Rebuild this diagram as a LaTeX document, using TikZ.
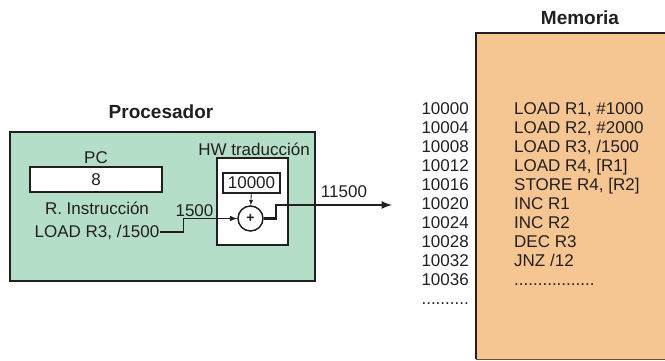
\documentclass[tikz,border=0pt]{standalone}
\usepackage{fontspec}
\setmainfont{Liberation Sans}
\definecolor{procgreen}{RGB}{180,222,199}
\definecolor{mempeach}{RGB}{245,198,146}
\definecolor{inkgray}{RGB}{35,31,32}
\tikzset{
    lbl/.style={inner sep=0pt, text=inkgray, font=\fontsize{17}{19}\selectfont},
    title/.style={inner sep=0pt, text=inkgray, font=\fontsize{19}{21}\selectfont\bfseries},
    regbox/.style={draw=inkgray, line width=2pt, fill=white, inner sep=0pt, text=inkgray, font=\fontsize{17}{19}\selectfont}
}
\begin{document}
\begin{tikzpicture}[x=1pt, y=-1pt, >=latex]
        \useasboundingbox (0,0) rectangle (665,361);

        \fill[mempeach] (476,33) rectangle (665,359);
        \draw[brown!60!black, line width=0.8pt] (476,359) -- (665,359);
        \draw[inkgray, line width=2.5pt] (476,359) -- (476,33) -- (665,33);
        \node[title] (memtitle) at (580,18) {Memoria};
        \foreach \i/\addr/\ins in {0/10000/{LOAD R1, \#1000}, 1/10004/{LOAD R2, \#2000}, 2/10008/{LOAD R3, /1500}, 3/10012/{LOAD R4, [R1]}, 4/10016/{STORE R4, [R2]}, 5/10020/{INC R1}, 6/10024/{INC R2}, 7/10028/{DEC R3}, 8/10032/{JNZ /12}, 9/10036/{.................}} {
            \node[lbl, anchor=base east] (addr\i) at (469, 115+18.9*\i) {\addr};
            \node[lbl, anchor=base west] (ins\i) at (514, 115+18.9*\i) {\ins};
        }
        \node[lbl, anchor=base east] (addrmore) at (469, 304) {..........};

        \draw[fill=procgreen, draw=inkgray, line width=2.5pt] (10,132) rectangle (315,281);
        \node[title] (proctitle) at (161,112) {Procesador};
        \node[lbl] (pclabel) at (96,158) {PC};
        \node[regbox, minimum width=132pt, minimum height=25pt] (pc) at (96,179.5) {8};
        \node[lbl] (irlabel) at (97,208) {R. Instrucción};
        \node[lbl] (ir) at (97,232) {LOAD R3, /1500};

        \node[lbl] (hwlabel) at (254,149) {HW traducción};
        \node[draw=inkgray, fill=white, line width=1.5pt, minimum width=71pt, minimum height=87pt, inner sep=0pt] (hw) at (252.5,201.5) {};
        \node[regbox, minimum width=57pt, minimum height=20pt] (base) at (251.5,183) {10000};
        \node[circle, draw=inkgray, line width=1.5pt, fill=white, minimum size=25pt, inner sep=0pt, text=inkgray, font=\fontsize{14}{14}\selectfont\bfseries] (adder) at (250.5,218.5) {+};

        \draw[->, inkgray, line width=0.8pt] (base) -- (adder);
        \draw[->, inkgray, line width=1.5pt] (ir.east) -- ++(24,0) |- (adder.west);
        \node[lbl] (offset) at (194.5,211) {1500};

        \coordinate (memin) at (392,205);
        \draw[->, inkgray, line width=2.5pt] (adder.east) -- ++(12,0) |- (memin);
        \node[lbl] (phys) at (344,192) {11500};
    \end{tikzpicture}
\end{document}
